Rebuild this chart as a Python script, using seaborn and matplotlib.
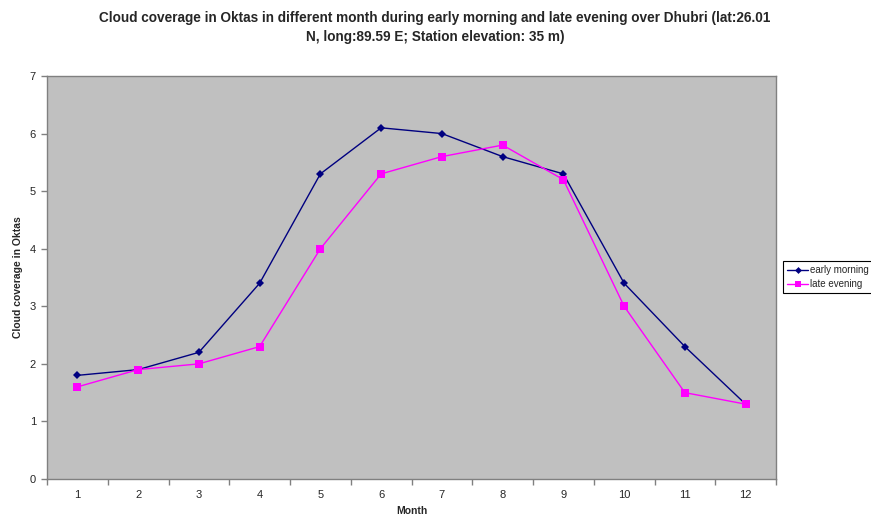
import matplotlib
matplotlib.use("Agg")
import matplotlib.pyplot as plt
import seaborn as sns
import pandas as pd

months = list(range(1, 13))
early_morning = [1.8, 1.9, 2.2, 3.4, 5.3, 6.1, 6.0, 5.6, 5.3, 3.4, 2.3, 1.3]
late_evening = [1.6, 1.9, 2.0, 2.3, 4.0, 5.3, 5.6, 5.8, 5.2, 3.0, 1.5, 1.3]
series_names = ["early morning", "late evening"]
y_ticks = [0, 1, 2, 3, 4, 5, 6, 7]

df = pd.DataFrame({
    "Month": months * 2,
    "value": early_morning + late_evening,
    "series": [series_names[0]] * 12 + [series_names[1]] * 12,
})

sns.set_theme(style="white")
plt.rcParams["font.family"] = ["Liberation Sans", "DejaVu Sans"]

fig = plt.figure(figsize=(8.71, 5.17), dpi=100)
ax = fig.add_axes([47 / 871, 1 - 479 / 517, 729 / 871, 403 / 517])
ax.set_facecolor("#C0C0C0")

sns.lineplot(
    data=df, x="Month", y="value", hue="series", style="series",
    palette={series_names[0]: "#000080", series_names[1]: "#FF00FF"},
    markers={series_names[0]: "D", series_names[1]: "s"},
    dashes=False, linewidth=1.0, markeredgewidth=0, ax=ax,
)
for line, ms in zip(ax.lines, [4, 5.5]):
    line.set_markersize(ms)

ax.set_xlim(0.5, 12.5)
ax.set_ylim(0, 7)
ax.set_xticks([m - 0.5 for m in months] + [12.5])
ax.set_xticklabels([])
ax.set_xticks(months, minor=True)
ax.set_xticklabels([str(m) for m in months], minor=True, fontsize=8)
ax.tick_params(axis="x", which="major", direction="out", length=4, color="#808080", width=1)
ax.tick_params(axis="x", which="minor", length=0, pad=8)
ax.set_yticks(y_ticks)
ax.set_yticklabels([str(v) for v in y_ticks], fontsize=8)
ax.tick_params(axis="y", direction="out", length=4, color="#808080", width=1, pad=4)
ax.tick_params(left=True, bottom=True)
ax.grid(False)

for s in ax.spines.values():
    s.set_visible(True)
    s.set_color("#808080")
    s.set_linewidth(1.0)

ax.set_xlabel("Month", fontsize=7.5, fontweight="bold", labelpad=4)
ax.set_ylabel("Cloud coverage in Oktas", fontsize=7.5, fontweight="bold", labelpad=5)

fig.suptitle(
    "Cloud coverage in Oktas in different month during early morning and late evening over Dhubri (lat:26.01\n"
    "N, long:89.59 E; Station elevation: 35 m)",
    x=435 / 871, y=1 - 11 / 517, va="top", fontsize=9.8, fontweight="bold", linespacing=1.5,
)

leg = ax.legend(
    loc="center left", bbox_to_anchor=(783 / 871, 1 - 277 / 517),
    bbox_transform=fig.transFigure, fontsize=7, frameon=True, fancybox=False,
    edgecolor="black", framealpha=1, handlelength=2.2, borderpad=0.4, labelspacing=0.4,
    handletextpad=0.2, borderaxespad=0,
)
leg.get_frame().set_linewidth(0.8)
for h, ms in zip(leg.legend_handles, [3.5, 5]):
    h.set_markersize(ms)

fig.savefig("out.png", dpi=100, facecolor="white")
